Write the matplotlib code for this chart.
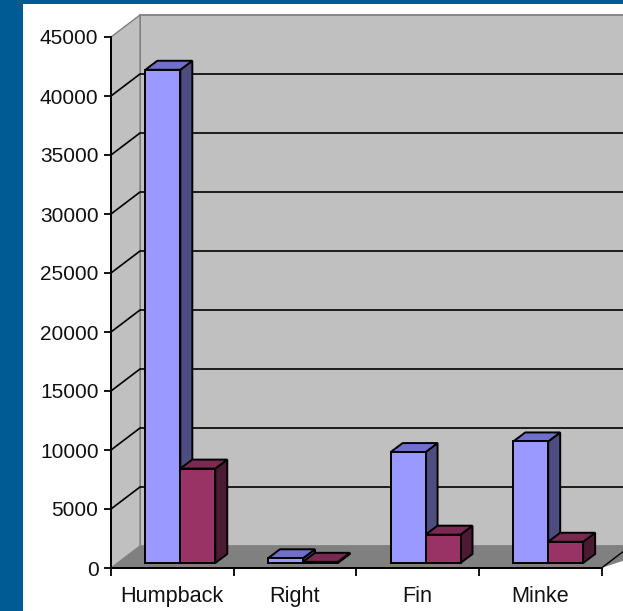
import matplotlib
matplotlib.use("Agg")
import matplotlib.pyplot as plt
from matplotlib.patches import Polygon, Rectangle
from matplotlib.transforms import IdentityTransform

plt.rcParams["font.family"] = ["Liberation Sans", "DejaVu Sans"]

# whale counts per species, two series per category
species = ["Humpback", "Right", "Fin", "Minke"]
series_a = [41800, 400, 9400, 10300]
series_b = [8000, 100, 2400, 1800]
y_ticks = [0, 5000, 10000, 15000, 20000, 25000, 30000, 35000, 40000, 45000]

W, H = 623, 611
WALL_DX, WALL_DY = 29, 22      # depth of the chart box in pixels
BAR_DX, BAR_DY = 12, 9         # depth of a bar
BAR_OFF_X, BAR_OFF_Y = 8, 5    # bars sit a little in from the front edge
BAR_W = 0.285

fig = plt.figure(figsize=(W / 100, H / 100), dpi=100, facecolor="#005A94")
fig.patches.append(Rectangle((23 / W, 0), 1, 1 - 4 / H, transform=fig.transFigure,
                             facecolor="white", edgecolor="none", zorder=-1))

ax = fig.add_axes([111 / W, (H - 568) / H, 490.5 / W, 531 / H])
ax.set_xlim(0, 4)
ax.set_ylim(0, 45000)
ax.patch.set_visible(False)
for side in ("top", "right"):
    ax.spines[side].set_visible(False)
for side in ("left", "bottom"):
    ax.spines[side].set_linewidth(1.4)
    ax.spines[side].set_zorder(20)

ax.set_yticks(y_ticks)
ax.set_xticks(range(5))
ax.set_xticklabels([])
ax.set_xticks([i + 0.5 for i in range(4)], species, minor=True)
ax.tick_params(axis="y", length=5, width=1.3, labelsize=15, pad=4, labelcolor="#111111")
ax.tick_params(axis="x", which="major", length=6, width=1.3)
ax.tick_params(axis="x", which="minor", length=0, labelsize=15.6, pad=13, labelcolor="#111111")


def px(x, v, dx=0, dy=0):
    # data position shifted into the depth of the box, in display pixels
    p = ax.transData.transform((x, v))
    return (p[0] + dx, p[1] + dy)


def face(points, color, z, edge="black", lw=1.4):
    ax.add_patch(Polygon(points, closed=True, facecolor=color, edgecolor=edge,
                         linewidth=lw, transform=IdentityTransform(),
                         clip_on=False, zorder=z, joinstyle="miter"))


# walls and floor
back_right = 4.3
face([px(0, 0, WALL_DX, WALL_DY), px(back_right, 0, WALL_DX, WALL_DY),
      px(back_right, 45000, WALL_DX, WALL_DY), px(0, 45000, WALL_DX, WALL_DY)],
     "#C0C0C0", 1, edge="#808080", lw=1.3)
face([px(0, 0), px(0, 45000), px(0, 45000, WALL_DX, WALL_DY), px(0, 0, WALL_DX, WALL_DY)],
     "#C0C0C0", 2, edge="#808080", lw=1.0)
face([px(0, 0), px(back_right, 0), px(back_right, 0, WALL_DX, WALL_DY), px(0, 0, WALL_DX, WALL_DY)],
     "#808080", 2, edge="none", lw=0)
ax.add_patch(Polygon([px(4, 0), px(back_right, 0), px(back_right, 0, WALL_DX, WALL_DY)],
                     closed=True, facecolor="white", edgecolor="none",
                     transform=IdentityTransform(), clip_on=False, zorder=2.5))

# gridlines run along the side wall and across the back wall
for v in y_ticks[1:-1]:
    xs, ys = zip(px(0, v), px(0, v, WALL_DX, WALL_DY), px(back_right, v, WALL_DX, WALL_DY))
    ax.plot(xs, ys, color="black", lw=1.2, transform=IdentityTransform(),
            clip_on=False, zorder=3)
xs, ys = zip(px(4, 0), px(4, 0, WALL_DX, WALL_DY))
ax.plot(xs, ys, color="black", lw=1.0, transform=IdentityTransform(), clip_on=False, zorder=3)


def bar(x0, value, front, side, top, z):
    x1 = x0 + BAR_W
    o = (BAR_OFF_X, BAR_OFF_Y)
    d = (BAR_OFF_X + BAR_DX, BAR_OFF_Y + BAR_DY)
    face([px(x1, 0, *o), px(x1, 0, *d), px(x1, value, *d), px(x1, value, *o)], side, z)
    face([px(x0, value, *o), px(x1, value, *o), px(x1, value, *d), px(x0, value, *d)], top, z)
    face([px(x0, 0, *o), px(x1, 0, *o), px(x1, value, *o), px(x0, value, *o)], front, z + 0.1)


for i, (a, b) in enumerate(zip(series_a, series_b)):
    left = i + 0.5 - BAR_W
    bar(left, a, "#9999FF", "#4D4D80", "#7070CC", 5 + i)
    bar(left + BAR_W, b, "#993366", "#4D1A33", "#7A2952", 5.5 + i)

fig.savefig("out.png", dpi=100, facecolor=fig.get_facecolor())
